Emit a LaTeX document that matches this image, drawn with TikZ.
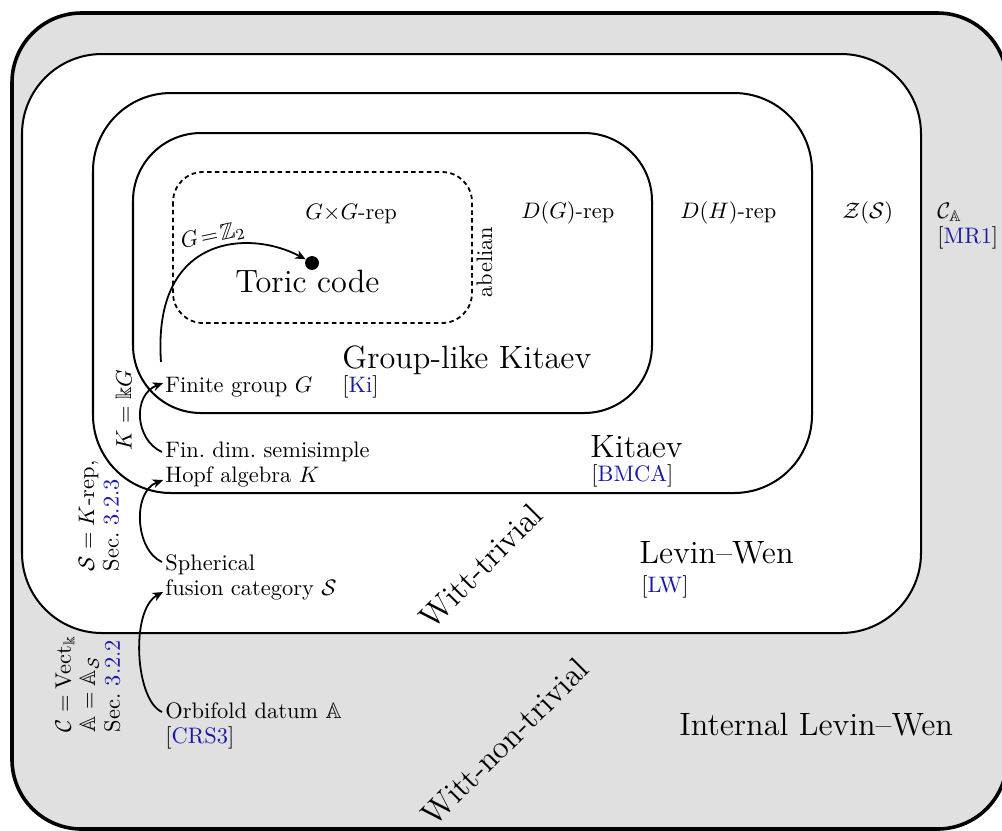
\documentclass[tikz,border=0pt]{standalone}
\usepackage{amsmath,amssymb}
\usetikzlibrary{arrows.meta,calc}
\definecolor{citeblue}{RGB}{25,25,165}
\definecolor{bggray}{RGB}{224,224,224}
\newcommand{\cit}[1]{[\textcolor{citeblue}{#1}]}
\begin{document}
\begin{tikzpicture}[x=0.446pt,y=-0.446pt,
  region/.style={draw=black, line width=0.9pt, fill=white},
  arr/.style={line width=0.8pt, -{Stealth[length=4.6pt,width=4pt,inset=1.4pt]}},
  lbl/.style={inner sep=0pt, anchor=base west, font=\normalsize},
  big/.style={inner sep=0pt, anchor=base west, font=\Large},
  twoline/.style={inner sep=0pt, align=left, anchor=base west, font=\fontsize{10}{10.9}\selectfont},
  side/.style={inner sep=0pt, rotate=90, align=left, font=\fontsize{10}{10.9}\selectfont},
]
\useasboundingbox (0,0) rectangle (1002,830);
\clip (0,0) rectangle (1002,830);
\draw[line width=1.6pt, fill=bggray, rounded corners=31pt] (12,13) rectangle (1007,829);
\draw[region, rounded corners=35.7pt] (22,54) rectangle (921,633);
\draw[region, rounded corners=34.8pt] (93,93) rectangle (812,493);
\draw[region, rounded corners=30.3pt] (133,133) rectangle (652,413);
\draw[line width=0.8pt, dash pattern=on 2pt off 1.5pt, rounded corners=13.4pt] (173,172) rectangle (472,323);

\node[lbl] (gg) at (305,219) {$G{\times}G$-rep};
\node[lbl] (dg) at (521,218) {$D(G)$-rep};
\node[lbl] (dh) at (680,218) {$D(H)$-rep};
\node[lbl] (zs) at (842,218) {$\mathcal{Z}(\mathcal{S})$};
\node[twoline] (ca) at (937,243) {$\mathcal{C}_{\mathbb{A}}$\\\cit{MR1}};
\node[inner sep=0pt, rotate=90, anchor=base] (ab) at (492,262) {abelian};

\node[circle, fill=black, inner sep=0pt, minimum size=6.2pt] (dot) at (312,263) {};
\node[big] (toric) at (235,292) {Toric code};
\node[inner sep=0pt, rotate=12] (gz) at (213,236) {$G\!=\!\mathbb{Z}_2$};

\node[lbl] (fg) at (165,392) {Finite group $G$};
\node[twoline] (hopf) at (165,482) {Fin.\ dim.\ semisimple\\Hopf algebra $K$};
\node[twoline] (sph) at (165,595) {Spherical\\fusion category $\mathcal{S}$};
\node[twoline] (orb) at (165,743) {Orbifold datum $\mathbb{A}$\\\cit{CRS3}};

\draw[arr] ($(fg.base west)+(-4,-30)$) .. controls +(-9,-128) and +(-56,-30) .. (dot.150);
\draw[arr] ($(hopf.base west)+(-3,-30)$) .. controls +(-27,-12) and +(-31,12) .. ($(fg.base west)+(-2,-9)$);
\draw[arr] ($(sph.base west)+(-3,-33)$) .. controls +(-27,-12) and +(-31,12) .. ($(hopf.base west)+(-2,-2)$);
\draw[arr] ($(orb.base west)+(-3,-31)$) .. controls +(-27,-12) and +(-33,18) .. ($(sph.base west)+(-2,-3)$);

\node[inner sep=0pt, rotate=90] (kkg) at (124,410) {$K=\Bbbk G$};
\node[side] (skrep) at (99,516) {$\mathcal{S}=K$-rep,\\Sec.~\textcolor{citeblue}{3.2.3}};
\node[side] (cvec) at (88,684) {$\mathcal{C}=\mathrm{Vect}_{\Bbbk}$\\$\mathbb{A}=\mathbb{A}_{\mathcal{S}}$\\Sec.~\textcolor{citeblue}{3.2.2}};

\node[big] (glk) at (342,368) {Group-like Kitaev};
\node[lbl] (ki) at (342,392) {\cit{Ki}};
\node[big] (kit) at (590,457) {Kitaev};
\node[lbl] (bmca) at (591,481) {\cit{BMCA}};
\node[big] (lw) at (639,563) {Levin--Wen};
\node[lbl] (lwc) at (641,592) {\cit{LW}};
\node[big] (ilw) at (679,735) {Internal Levin--Wen};
\node[inner sep=0pt, rotate=45, font=\Large] (wt) at (481,566) {Witt-trivial};
\node[inner sep=0pt, rotate=45, font=\Large] (wnt) at (505,742) {Witt-non-trivial};
\end{tikzpicture}
\end{document}
